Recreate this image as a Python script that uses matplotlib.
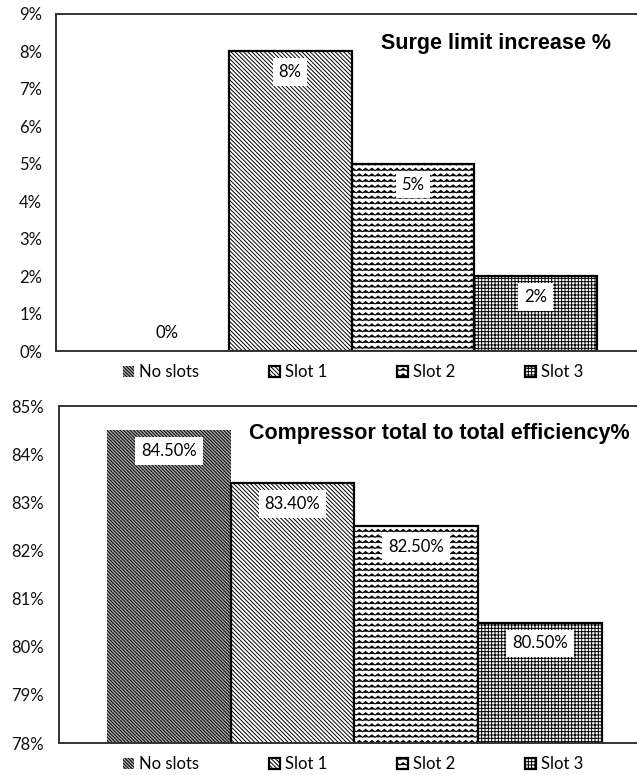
import warnings

import numpy as np
import matplotlib
matplotlib.use("Agg")
import matplotlib.pyplot as plt
from matplotlib import hatch as mhatch
from matplotlib.path import Path

# ---- data -------------------------------------------------------------
series = ["No slots", "Slot 1", "Slot 2", "Slot 3"]
surge_increase = [0, 8, 5, 2]            # %
efficiency = [84.5, 83.4, 82.5, 80.5]    # %
surge_labels = ["0%", "8%", "5%", "2%"]
efficiency_labels = ["84.50%", "83.40%", "82.50%", "80.50%"]
surge_ticks = list(range(0, 10))
efficiency_ticks = list(range(78, 86))
surge_title = "Surge limit increase %"
efficiency_title = "Compressor total to total efficiency%"


# ---- a wavy hatch ('z') for the Slot 2 fill ----------------------------
class ZigzagHatch(mhatch.HatchPatternBase):
    teeth = 16
    amp = 0.012

    def __init__(self, hatch, density):
        self.num_rows = int(hatch.count("z") * density)
        self.num_vertices = self.num_rows * (2 * self.teeth + 1)

    def set_vertices_and_codes(self, vertices, codes):
        n_pts = 2 * self.teeth + 1
        xs = np.linspace(0.0, 1.0, n_pts)
        offs = np.where(np.arange(n_pts) % 2 == 0, -self.amp, self.amp)
        rows = (np.arange(self.num_rows) + 0.5) / self.num_rows
        for i, y in enumerate(rows):
            sl = slice(i * n_pts, (i + 1) * n_pts)
            vertices[sl, 0] = xs
            vertices[sl, 1] = y + offs
            codes[sl] = Path.LINETO
            codes[i * n_pts] = Path.MOVETO


mhatch._hatch_types.append(ZigzagHatch)
warnings.filterwarnings("ignore", category=matplotlib.MatplotlibDeprecationWarning)

plt.rcParams["hatch.linewidth"] = 0.7
plt.rcParams["font.family"] = ["Lato", "DejaVu Sans"]

styles = [
    dict(facecolor="#a8a8a8", hatch="\\" * 10, linewidth=0),
    dict(facecolor="white", hatch="\\" * 8, linewidth=1.6),
    dict(facecolor="white", hatch="zzz", linewidth=1.6),
    dict(facecolor="white", hatch="+++++", linewidth=1.6),
]

W, H = 637, 775
fig = plt.figure(figsize=(W / 100, H / 100), dpi=100)


def panel(rect_px, values, labels, ticks, xlim, title, title_xy, legend_xy, tick_pad):
    left, top, right, bottom = rect_px
    ax = fig.add_axes([left / W, 1 - bottom / H, (right - left) / W, (bottom - top) / H])
    lo = ticks[0]
    for i, (name, v, st) in enumerate(zip(series, values, styles)):
        ax.bar(i, v, width=1.0, edgecolor="black", label=name, zorder=2, **st)
    for i, (v, lab) in enumerate(zip(values, labels)):
        dy = 13 if v <= lo else -15
        ax.annotate(lab, xy=(i, v), xytext=(0, dy), textcoords="offset points",
                    ha="center", va="center", fontsize=12, color="black", zorder=4,
                    bbox=dict(boxstyle="square,pad=0.35", fc="white", ec="none"))
    ax.set_ylim(ticks[0], ticks[-1])
    ax.set_yticks(ticks)
    ax.set_yticklabels([f"{t}%" for t in ticks])
    ax.set_xlim(*xlim)
    ax.set_xticks([])
    ax.tick_params(axis="y", length=0, pad=tick_pad, labelsize=12, labelcolor="#111111")
    for s in ax.spines.values():
        s.set_linewidth(1.4)
        s.set_color("#333333")
        s.set_zorder(3)
    fig.text(title_xy[0] / W, 1 - title_xy[1] / H, title, ha="center", va="center",
             fontsize=15.5, fontweight="bold", family=["Liberation Sans", "DejaVu Sans"])
    ax.legend(loc="center", bbox_to_anchor=(legend_xy[0] / W, 1 - legend_xy[1] / H),
              bbox_transform=fig.transFigure, ncol=4, frameon=False, fontsize=12,
              handlelength=0.65, handleheight=0.65, handletextpad=0.3, columnspacing=4.2)
    return ax


panel((56, 14, 645, 351), surge_increase, surge_labels, surge_ticks,
      (-0.907, 3.89), surge_title, (496, 44), (353, 372), 10)
panel((59, 406, 645, 743), efficiency, efficiency_labels, efficiency_ticks,
      (-0.888, 3.85), efficiency_title, (439, 433), (353, 764), 11)

fig.savefig("out.png", dpi=100, facecolor="white")
